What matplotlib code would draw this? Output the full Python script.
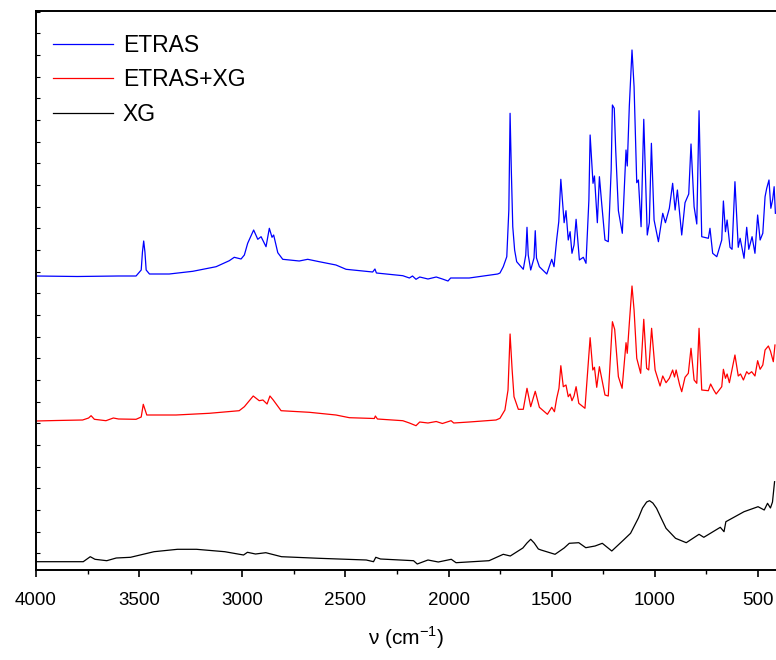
import matplotlib
matplotlib.use('Agg')
import matplotlib.pyplot as plt
from matplotlib.ticker import MultipleLocator
import numpy as np

plt.rcParams['font.family'] = ['Liberation Sans', 'DejaVu Sans']
plt.rcParams['mathtext.fontset'] = 'custom'
plt.rcParams['mathtext.rm'] = 'Liberation Sans'

# ---- data (wavenumber in cm-1, offset intensity in a.u.) ----
etras_wn = [4000, 3800, 3600, 3515, 3490, 3484, 3478, 3472, 3466, 3450, 3354, 3240,
            3127, 3063, 3039, 3006, 2990, 2974, 2945, 2925, 2909, 2885,
            2869, 2856, 2848, 2828, 2804, 2724, 2683, 2627, 2546, 2497,
            2368, 2357, 2350, 2222, 2190, 2175, 2158, 2140, 2100, 2060,
            2030, 2003, 1990, 1900, 1799, 1762, 1751, 1735, 1718, 1708, 1702,
            1696, 1689, 1680, 1670, 1638, 1626, 1620, 1614, 1602, 1586, 1580, 1574, 1560, 1524, 1500, 1489,
            1476, 1466, 1456, 1440, 1431, 1420, 1411, 1402, 1392, 1382,
            1366, 1347, 1334, 1320, 1314, 1300, 1293, 1279, 1269, 1258, 1242,
            1226, 1212, 1206, 1197, 1190, 1177, 1158, 1140, 1134, 1124, 1111, 1101,
            1088, 1080, 1067, 1054, 1037, 1027, 1017, 1004, 983, 962,
            949, 930, 914, 902, 891, 870, 854, 836, 825, 810,
            797, 786, 773, 741, 733, 720, 700, 676, 668, 658,
            650, 636, 626, 612, 596, 587, 568, 555, 545, 529,
            515, 502, 490, 477, 466, 458, 447, 438, 429, 422, 416]
etras_val = [294, 293.5, 294, 294, 300, 318, 329, 318, 300, 296, 296, 298.7,
             303.3, 309.3, 312.7, 311, 315, 326.7, 340, 330.7, 333.3, 323.3,
             341.7, 332.7, 335, 317.3, 310.7, 309, 310.7, 308.3, 305, 300.7,
             298, 301, 297, 294.3, 292, 294, 290.7, 293, 291, 293,
             291, 289, 292, 292, 295, 296, 297, 303.3, 313.3, 360, 456.7,
             400, 343.3, 320, 308.3, 300.7, 315, 342.7, 315, 300, 312, 339.3, 312, 303.3, 296, 310.7, 303.3,
             330.7, 348.3, 390.7, 347.3, 359.3, 330, 338.3, 316.7, 325, 350.7,
             310, 312.7, 306.7, 370, 435, 386.7, 394, 347.3, 393.3, 366.7, 330,
             328.3, 400, 465, 461.7, 420, 359.3, 336.7, 420, 404, 464, 520, 483.3,
             387.3, 390, 343.3, 450.7, 335, 347.3, 426.7, 350, 328.3, 356.7,
             347.3, 361.7, 386.7, 360, 380, 335, 367.3, 376, 426, 363.3,
             346, 459.3, 333.3, 331.7, 341.7, 316.7, 313.3, 330, 369, 338.3,
             350, 322.7, 320.7, 388.3, 322.7, 331.7, 311.7, 342.7, 320.7, 333.3,
             316.7, 355, 330, 336.7, 373.3, 381.7, 390, 361.7, 370.7, 383.3, 356.7]

mix_wn = [4000, 3900, 3774, 3745, 3733, 3717, 3661, 3625, 3600, 3515,
          3490, 3480, 3463, 3321, 3160, 3015, 2990, 2947, 2918, 2900,
          2880, 2866, 2850, 2812, 2675, 2546, 2481, 2360, 2355, 2345,
          2222, 2190, 2158, 2140, 2100, 2060, 2030, 1988, 1975, 1900,
          1770, 1751, 1727, 1712, 1702, 1692, 1683, 1662, 1638, 1620, 1602, 1580,
          1560, 1521, 1500, 1487, 1476, 1465, 1456, 1444, 1431, 1420,
          1411, 1402, 1392, 1382, 1369, 1339, 1314, 1301, 1293, 1282,
          1269, 1258, 1242, 1226, 1206, 1195, 1177, 1159, 1140, 1134,
          1124, 1111, 1101, 1088, 1069, 1054, 1040, 1030, 1016, 999,
          975, 962, 946, 930, 914, 905, 897, 880, 870, 854,
          838, 825, 810, 797, 786, 773, 741, 730, 715, 703,
          676, 668, 658, 650, 639, 612, 596, 585, 571, 555,
          545, 531, 515, 502, 490, 477, 466, 450, 440, 426, 418]
mix_val = [149, 149.5, 150, 152, 154.3, 150.7, 149.3, 152, 151, 150.7,
           153, 165.7, 155, 155, 156.7, 159.3, 163.3, 174, 169.3, 170,
           166, 174, 170, 159.3, 157.7, 155, 152.3, 151.5, 154, 151,
           149.3, 147, 144.3, 148, 147, 148.5, 146.5, 149.3, 147, 148,
           150, 151.7, 160, 180, 236, 200, 173.3, 160.7, 160.7, 181.7, 163.3, 178.7,
           162.7, 155.7, 162.7, 158.3, 171.7, 181.7, 204.3, 183.3, 185, 173.3,
           176, 169.3, 174, 183.3, 166.7, 161.7, 232.3, 200, 202.7, 182.7,
           203.3, 191.7, 175, 174, 248.3, 240.7, 193.3, 181.7, 227.3, 216.7,
           246.7, 284, 260, 211.7, 196.7, 250.7, 201.7, 200, 241.7, 200,
           184, 194, 187.3, 191.7, 200, 193, 200, 185, 178.3, 192.7,
           196.7, 221.7, 190, 186.7, 241.7, 180, 179.3, 186, 180, 176,
           183.3, 200.7, 191.7, 196, 187.3, 215, 194, 196, 190, 198.3,
           196, 198.3, 194, 209.3, 200.7, 205, 220, 224, 219, 208.3, 225]

xg_wn = [4000, 3771, 3737, 3714, 3657, 3611, 3542, 3428, 3314, 3222,
         3085, 2994, 2975, 2936, 2886, 2810, 2628, 2399, 2364, 2353,
         2330, 2170, 2152, 2100, 2050, 1987, 1964, 1804, 1735, 1701,
         1640, 1620, 1602, 1585, 1565, 1552, 1484, 1440, 1415, 1369, 1335, 1290, 1255, 1209, 1152, 1118,
         1080, 1060, 1040, 1026, 1010, 992, 970, 946, 900, 848, 786, 763, 683, 665, 656,
         568, 500, 470, 454, 440, 430, 420]
xg_val = [8.3, 8.3, 13.3, 10.7, 9.3, 12, 12.7, 18.3, 20.7, 20.7,
          18.3, 15, 17.7, 16, 17.3, 13.3, 11.7, 10, 8.3, 12.7,
          11, 9.3, 6, 10, 8, 10.7, 7.3, 9.3, 15.7, 14,
          22, 27, 30.7, 27, 21, 20, 15.7, 22, 26.7, 27.3, 22.3, 24, 26.7, 19, 30, 36.7,
          52, 62, 68, 69.3, 67, 61.7, 52, 41.7, 31.7, 27.3, 35.7, 32.7, 42.7, 38.3, 48.3,
          58.3, 63.3, 60, 66.7, 62, 68, 88.3]

series = [
    (etras_wn, etras_val, '#0000FF', 'ETRAS'),
    (mix_wn, mix_val, '#FF0000', 'ETRAS+XG'),
    (xg_wn, xg_val, '#000000', 'XG'),
]

fig = plt.figure(figsize=(7.76, 6.6), dpi=100)
ax = fig.add_axes([36 / 776, 90 / 660, 740 / 776, 559 / 660])

for wn, val, col, lab in series:
    ax.plot(wn, val, color=col, lw=0.9, label=lab)

ax.set_xlim(4000, 413)
ax.set_ylim(0, 559)

ax.xaxis.set_major_locator(MultipleLocator(500))
ax.xaxis.set_minor_locator(MultipleLocator(250))
ax.tick_params(axis='x', which='major', direction='out', length=5, width=1.2,
               labelsize=13.5, pad=11)
ax.tick_params(axis='x', which='minor', direction='out', length=3, width=1.0)
ax.set_yticks(np.arange(16.7, 559, 21.67))
ax.tick_params(axis='y', which='major', direction='in', length=3, width=0.8,
               labelleft=False)
ax.spines['right'].set_visible(False)
for s in ['left', 'bottom', 'top']:
    ax.spines[s].set_linewidth(1.4)

ax.set_xlabel(r'ν (cm$^{\mathregular{-1}}$)', fontsize=15, labelpad=11)

ax.legend(loc='upper left', bbox_to_anchor=(17 / 740, 1 - 23 / 559),
          frameon=False, fontsize=16.5, handlelength=2.6, handletextpad=0.45,
          labelspacing=0.5, borderaxespad=0, borderpad=0)

fig.savefig('out.png', dpi=100)
